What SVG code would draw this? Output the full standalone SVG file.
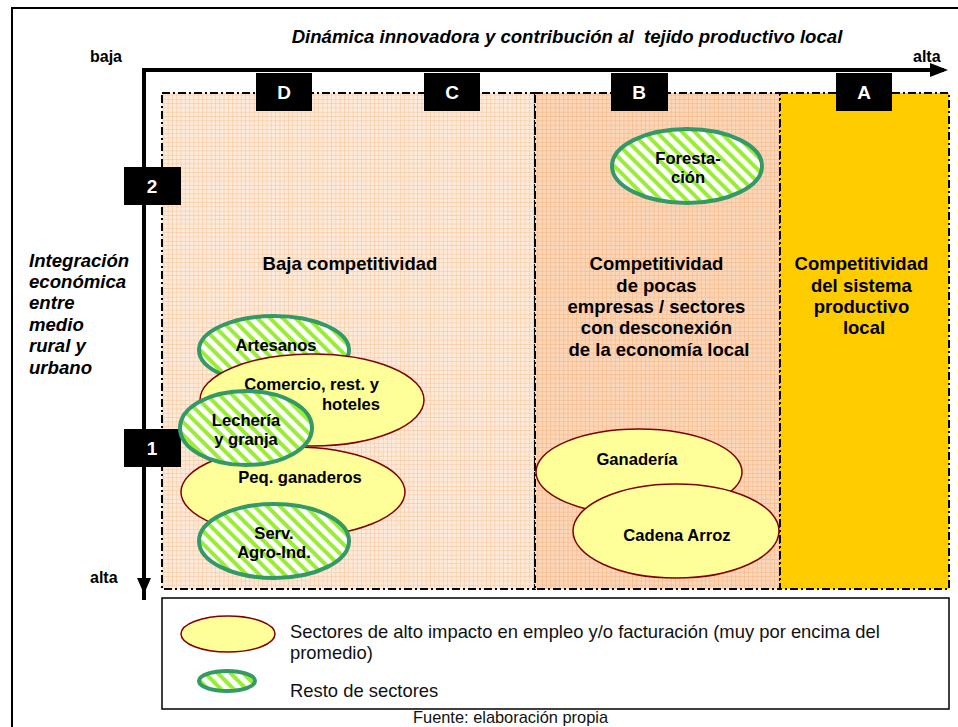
<svg xmlns="http://www.w3.org/2000/svg" width="958" height="727" viewBox="0 0 958 727">
  <defs>
    <pattern id="gridLight" width="4.3" height="4.3" patternUnits="userSpaceOnUse">
      <rect width="4.3" height="4.3" fill="#fdeadb"/>
      <path d="M0 0.3H4.3M0.3 0V4.3" stroke="#f8c89a" stroke-width="0.7" fill="none"/>
    </pattern>
    <pattern id="gridDark" width="4.3" height="4.3" patternUnits="userSpaceOnUse">
      <rect width="4.3" height="4.3" fill="#fbd6b8"/>
      <path d="M0 0.3H4.3M0.3 0V4.3" stroke="#f4b888" stroke-width="0.7" fill="none"/>
    </pattern>
    <pattern id="stripes" width="9" height="9" patternUnits="userSpaceOnUse" patternTransform="rotate(-45)">
      <rect width="9" height="9" fill="#ffffff"/>
      <rect width="4" height="9" fill="#99ee33"/>
    </pattern>
    <style>
      .lbl{font-family:"Liberation Sans",Arial,sans-serif;font-weight:bold;font-size:18.5px;fill:#000}
      .axis{font-family:"Liberation Sans",Arial,sans-serif;font-weight:bold;font-size:16px;fill:#000}
      .ital{font-family:"Liberation Sans",Arial,sans-serif;font-weight:bold;font-style:italic;font-size:18.6px;fill:#000}
      .node{font-family:"Liberation Sans",Arial,sans-serif;font-weight:bold;font-size:16.6px;fill:#000;text-anchor:middle}
      .tag{font-family:"Liberation Sans",Arial,sans-serif;font-weight:bold;font-size:19px;fill:#fff;text-anchor:middle}
      .leg{font-family:"Liberation Sans",Arial,sans-serif;font-size:18.4px;fill:#111}
      .src{font-family:"Liberation Sans",Arial,sans-serif;font-size:16.4px;fill:#111}
      .zone{stroke:#000;stroke-width:2;stroke-dasharray:8 3 2 3}
      .big{fill:#ffff99;stroke:#800000;stroke-width:1.5}
      .rest{fill:url(#stripes);stroke:#339966;stroke-width:4}
    </style>
  </defs>

  <rect width="958" height="727" fill="#fff"/>
  <!-- outer frame -->
  <path d="M12 740V8H970" fill="none" stroke="#000" stroke-width="2"/>

  <!-- zones -->
  <g id="zone-dc">
    <rect x="162" y="93" width="373" height="496" fill="url(#gridLight)" class="zone"/>
  </g>
  <g id="zone-b">
    <rect x="535" y="93" width="245" height="496" fill="url(#gridDark)" class="zone"/>
  </g>
  <g id="zone-a">
    <rect x="780" y="93" width="169" height="496" fill="#ffcc00" class="zone"/>
  </g>

  <!-- axes -->
  <g id="connectors">
    <path d="M144 600V70H944" fill="none" stroke="#000" stroke-width="4"/>
    <path d="M930 63L948 70L930 77z" fill="#000"/>
    <path d="M137 578L144 594L151 578z" fill="#000"/>
  </g>

  <!-- axis titles -->
  <text class="ital" x="567" y="43" text-anchor="middle" style="white-space:pre">Dinámica innovadora y contribución al  tejido productivo local</text>
  <text class="axis" x="90" y="62">baja</text>
  <text class="axis" x="913" y="62">alta</text>
  <text class="axis" x="90" y="583">alta</text>
  <text class="ital" x="29">
    <tspan x="29" y="267">Integración</tspan>
    <tspan x="29" y="288">económica</tspan>
    <tspan x="29" y="309">entre</tspan>
    <tspan x="29" y="331">medio</tspan>
    <tspan x="29" y="352">rural y</tspan>
    <tspan x="29" y="374">urbano</tspan>
  </text>

  <!-- black tags -->
  <g id="tag-d"><rect x="256" y="73" width="56" height="38" fill="#000"/><text class="tag" x="284" y="99">D</text></g>
  <g id="tag-c"><rect x="424" y="73" width="56" height="38" fill="#000"/><text class="tag" x="452" y="99">C</text></g>
  <g id="tag-b"><rect x="611" y="73" width="57" height="38" fill="#000"/><text class="tag" x="639" y="99">B</text></g>
  <g id="tag-a"><rect x="836" y="73" width="56" height="38" fill="#000"/><text class="tag" x="864" y="99">A</text></g>
  <g id="tag-2"><rect x="124" y="167" width="57" height="38" fill="#000"/><text class="tag" x="152" y="193">2</text></g>
  <g id="tag-1"><rect x="124" y="429" width="57" height="38" fill="#000"/><text class="tag" x="152" y="455">1</text></g>

  <!-- zone descriptions -->
  <text class="lbl" x="350" y="270" text-anchor="middle">Baja competitividad</text>
  <text class="lbl" text-anchor="middle">
    <tspan x="659" y="270">Competitividad</tspan>
    <tspan x="659" y="292">de pocas</tspan>
    <tspan x="659" y="313">empresas / sectores</tspan>
    <tspan x="659" y="334">con desconexión</tspan>
    <tspan x="659" y="356">de la economía local</tspan>
  </text>
  <text class="lbl" text-anchor="middle">
    <tspan x="864" y="270">Competitividad</tspan>
    <tspan x="864" y="292">del sistema</tspan>
    <tspan x="864" y="313">productivo</tspan>
    <tspan x="864" y="334">local</tspan>
  </text>

  <!-- sectors -->
  <g id="forestacion">
    <ellipse cx="687" cy="166" rx="75" ry="37" class="rest"/>
    <text class="node"><tspan x="688" y="164">Foresta-</tspan><tspan x="688" y="183">ción</tspan></text>
  </g>
  <g id="artesanos">
    <ellipse cx="274" cy="350" rx="75" ry="34" class="rest"/>
    <text class="node" x="276" y="351">Artesanos</text>
  </g>
  <g id="comercio">
    <ellipse cx="312" cy="400" rx="112" ry="46" class="big"/>
    <text class="node" style="text-anchor:end"><tspan x="379" y="390">Comercio, rest. y</tspan><tspan x="380" y="410">hoteles</tspan></text>
  </g>
  <g id="peq-ganaderos">
    <ellipse cx="293" cy="492" rx="112" ry="45" class="big"/>
    <text class="node" x="300" y="483">Peq. ganaderos</text>
  </g>
  <g id="lecheria">
    <ellipse cx="246" cy="428" rx="66" ry="37" class="rest"/>
    <text class="node"><tspan x="246" y="426">Lechería</tspan><tspan x="246" y="445">y granja</tspan></text>
  </g>
  <g id="serv-agro">
    <ellipse cx="274" cy="541" rx="75" ry="37" class="rest"/>
    <text class="node"><tspan x="274" y="539">Serv.</tspan><tspan x="274" y="558">Agro-Ind.</tspan></text>
  </g>
  <g id="ganaderia">
    <ellipse cx="639" cy="472" rx="103" ry="43" class="big"/>
    <text class="node" x="637" y="465">Ganadería</text>
  </g>
  <g id="cadena-arroz">
    <ellipse cx="676" cy="531" rx="103" ry="47" class="big"/>
    <text class="node" x="677" y="541">Cadena Arroz</text>
  </g>

  <!-- legend -->
  <g id="legend">
    <rect x="162" y="598" width="787" height="111" fill="#fff" stroke="#000" stroke-width="1.5"/>
    <ellipse cx="228" cy="634" rx="47" ry="18" class="big"/>
    <ellipse cx="227" cy="681" rx="28" ry="10" class="rest" stroke-width="3.5"/>
    <text class="leg"><tspan x="290" y="638">Sectores de alto impacto en empleo y/o facturación (muy por encima del</tspan><tspan x="290" y="659">promedio)</tspan></text>
    <text class="leg" x="290" y="697">Resto de sectores</text>
  </g>
  <text class="src" x="413" y="723">Fuente: elaboración propia</text>
</svg>
